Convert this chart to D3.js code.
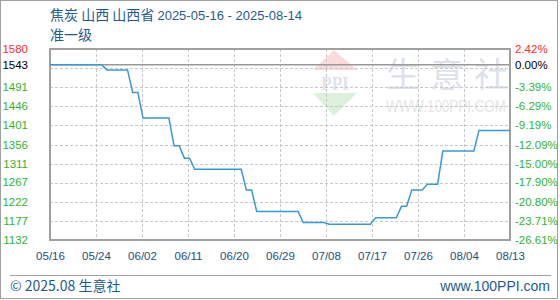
<!DOCTYPE html>
<html><head><meta charset="utf-8">
<script src="https://cdn.jsdelivr.net/npm/d3@7"></script>
<style>
html,body{margin:0;padding:0;background:#fff;}
svg{display:block;}
</style></head>
<body>
<script>
// ---- data ----
const titleCn = "焦炭 山西 山西省 ";
const titleDates = "2025-05-16 - 2025-08-14";
const subTitle = "准一级";
const lineDates = ["2025-05-16","2025-05-26","2025-05-27","2025-05-31","2025-06-01","2025-06-02","2025-06-03","2025-06-08","2025-06-09","2025-06-10","2025-06-11","2025-06-12","2025-06-13","2025-06-22","2025-06-23","2025-06-24","2025-06-25","2025-07-03","2025-07-04","2025-07-08","2025-07-09","2025-07-17","2025-07-18","2025-07-22","2025-07-23","2025-07-24","2025-07-25","2025-07-27","2025-07-28","2025-07-30","2025-07-31","2025-08-06","2025-08-07","2025-08-13"];
const lineValues = [1543,1543,1531,1531,1478,1478,1418,1418,1353,1353,1324,1324,1298,1298,1249,1249,1199,1199,1173,1173,1169,1169,1184,1184,1211,1211,1249,1249,1263,1263,1341,1341,1389,1389];
const xTickLabels = ["05/16","05/24","06/02","06/11","06/20","06/29","07/08","07/17","07/26","08/04","08/13"];
const yGridValues = [1132,1176.8,1221.6,1266.4,1311.2,1356,1400.8,1445.6,1490.4,1535.2,1580];
const yLabelValues = [1580,1543,1491,1446,1401,1356,1311,1267,1222,1177,1132];
const yLabels = ["1580","1543","1491","1446","1401","1356","1311","1267","1222","1177","1132"];
const pctLabels = ["2.42%","0.00%","-3.39%","-6.29%","-9.19%","-12.09%","-15.00%","-17.90%","-20.80%","-23.71%","-26.61%"];
const baseValue = 1543;
const yMin = 1132, yMax = 1580;
const xStart = "2025-05-16", xEnd = "2025-08-13";

// ---- layout ----
const W = 560, H = 300;
const L = 50, R = 510, T = 49, B = 240;
const parse = d3.timeParse("%Y-%m-%d");
const svg = d3.select("body").append("svg").attr("width", W).attr("height", H);

svg.append("rect").attr("x",0.5).attr("y",0.5).attr("width",557).attr("height",298)
  .attr("fill","#fff").attr("stroke","#a0a0a0").attr("stroke-width",1);

const x = d3.scaleTime().domain([parse(xStart), parse(xEnd)]).range([L, R]);
const y = d3.scaleLinear().domain([yMin, yMax]).range([B, T]);

// watermark
const wm = svg.append("g");
wm.append("path").attr("d", "M334,50 L357,70 L313,70 Z").attr("fill","#f8dcdc");
wm.append("path").attr("d", "M313,93 L357,93 L334,116 Z").attr("fill","#dcf0dc");
wm.append("text").attr("transform","translate(335,90) scale(0.9,1)").attr("text-anchor","middle")
  .attr("font-family","Liberation Serif, serif").attr("font-size",19).attr("font-weight","bold")
  .attr("fill","#dfe4ef").text("PPI");
wm.append("text").attr("x",386).attr("y",87)
  .attr("font-family","Noto Sans CJK SC").attr("font-size",34)
  .attr("fill","#dde1ea").attr("letter-spacing",10).text("生意社");
wm.append("text").attr("transform","translate(386,112) scale(0.79,1)")
  .attr("font-family","Liberation Sans, Arial").attr("font-size",17)
  .attr("fill","#e6e6e6").text("WWW.100PPI.COM");

// grid
const d0 = parse(xStart).getTime();
const span = (parse(xEnd).getTime() - d0);
const xTickDates = xTickLabels.map((s,i) => new Date(d0 + span * i / (xTickLabels.length - 1)));
const grid = svg.append("g").attr("stroke","#c8c8c8").attr("stroke-width",1).attr("stroke-dasharray","3,2");
grid.selectAll("line.h").data(yGridValues).join("line")
  .attr("x1",L).attr("x2",R).attr("y1",d=>Math.round(y(d))+0.5).attr("y2",d=>Math.round(y(d))+0.5);
grid.selectAll("line.v").data(xTickDates).join("line")
  .attr("x1",d=>Math.round(x(d))+0.5).attr("x2",d=>Math.round(x(d))+0.5).attr("y1",T).attr("y2",B);

// base line
svg.append("line").attr("x1",L).attr("x2",R).attr("y1",y(baseValue)).attr("y2",y(baseValue))
  .attr("stroke","#999").attr("stroke-width",1.5);

// plot frame
svg.append("rect").attr("x",L).attr("y",T).attr("width",R-L).attr("height",B-T)
  .attr("fill","none").attr("stroke","#a0a0a0").attr("stroke-width",2);

// line
const pts = lineDates.map((d,i)=>({d:parse(d), v:lineValues[i]}));
svg.append("path").datum(pts)
  .attr("fill","none").attr("stroke","#3b98d6").attr("stroke-width",1.5)
  .attr("d", d3.line().x(p=>x(p.d)).y(p=>y(p.v)));

// left / right axis labels
const colorFor = i => i===0 ? "#ff2a2a" : (i===1 ? "#000" : "#2fb42f");
const axFont = "Liberation Sans, Arial, sans-serif";
svg.append("g").selectAll("text").data(yLabelValues).join("text")
  .attr("x",28).attr("y",d=>y(d)).attr("dy","0.35em").attr("text-anchor","end")
  .attr("font-family",axFont).attr("font-size",11.5).attr("fill",(d,i)=>colorFor(i))
  .text((d,i)=>yLabels[i]);
svg.append("g").selectAll("text").data(yLabelValues).join("text")
  .attr("x",515).attr("y",d=>y(d)).attr("dy","0.35em").attr("text-anchor","start")
  .attr("font-family",axFont).attr("font-size",11.5).attr("fill",(d,i)=>colorFor(i))
  .text((d,i)=>pctLabels[i]);

// x axis labels
const xAxis = d3.axisBottom(x).tickValues(xTickDates).tickFormat((d,i)=>xTickLabels[i]).tickSize(0).tickPadding(12);
const gx = svg.append("g").attr("transform",`translate(0,${B})`).call(xAxis);
gx.select(".domain").remove();
gx.selectAll("text").attr("font-family",axFont).attr("font-size",11.5).attr("fill","#1d4f7c");

// titles
const tColor = "#1f5b8f";
const t1 = svg.append("text").attr("x",50).attr("y",20).attr("fill",tColor);
t1.append("tspan").attr("font-family","Noto Sans CJK SC").attr("font-size",14).text(titleCn);
t1.append("tspan").attr("font-family","Liberation Sans, Arial").attr("font-size",13).text(titleDates);
svg.append("text").attr("x",50).attr("y",40).attr("font-family","Noto Sans CJK SC").attr("font-size",14)
  .attr("fill",tColor).text(subTitle);

// footer
svg.append("line").attr("x1",10).attr("x2",551).attr("y1",275.5).attr("y2",275.5).attr("stroke","#a0a0a0").attr("stroke-width",1);
svg.append("text").attr("x",10).attr("y",291).attr("font-family","Noto Sans CJK SC").attr("font-size",14)
  .attr("fill",tColor).text("© 2025.08 生意社");
svg.append("text").attr("x",550).attr("y",291).attr("text-anchor","end").attr("font-family","Liberation Sans, Arial").attr("font-size",14)
  .attr("fill",tColor).text("www.100PPI.com");
</script>
</body></html>
